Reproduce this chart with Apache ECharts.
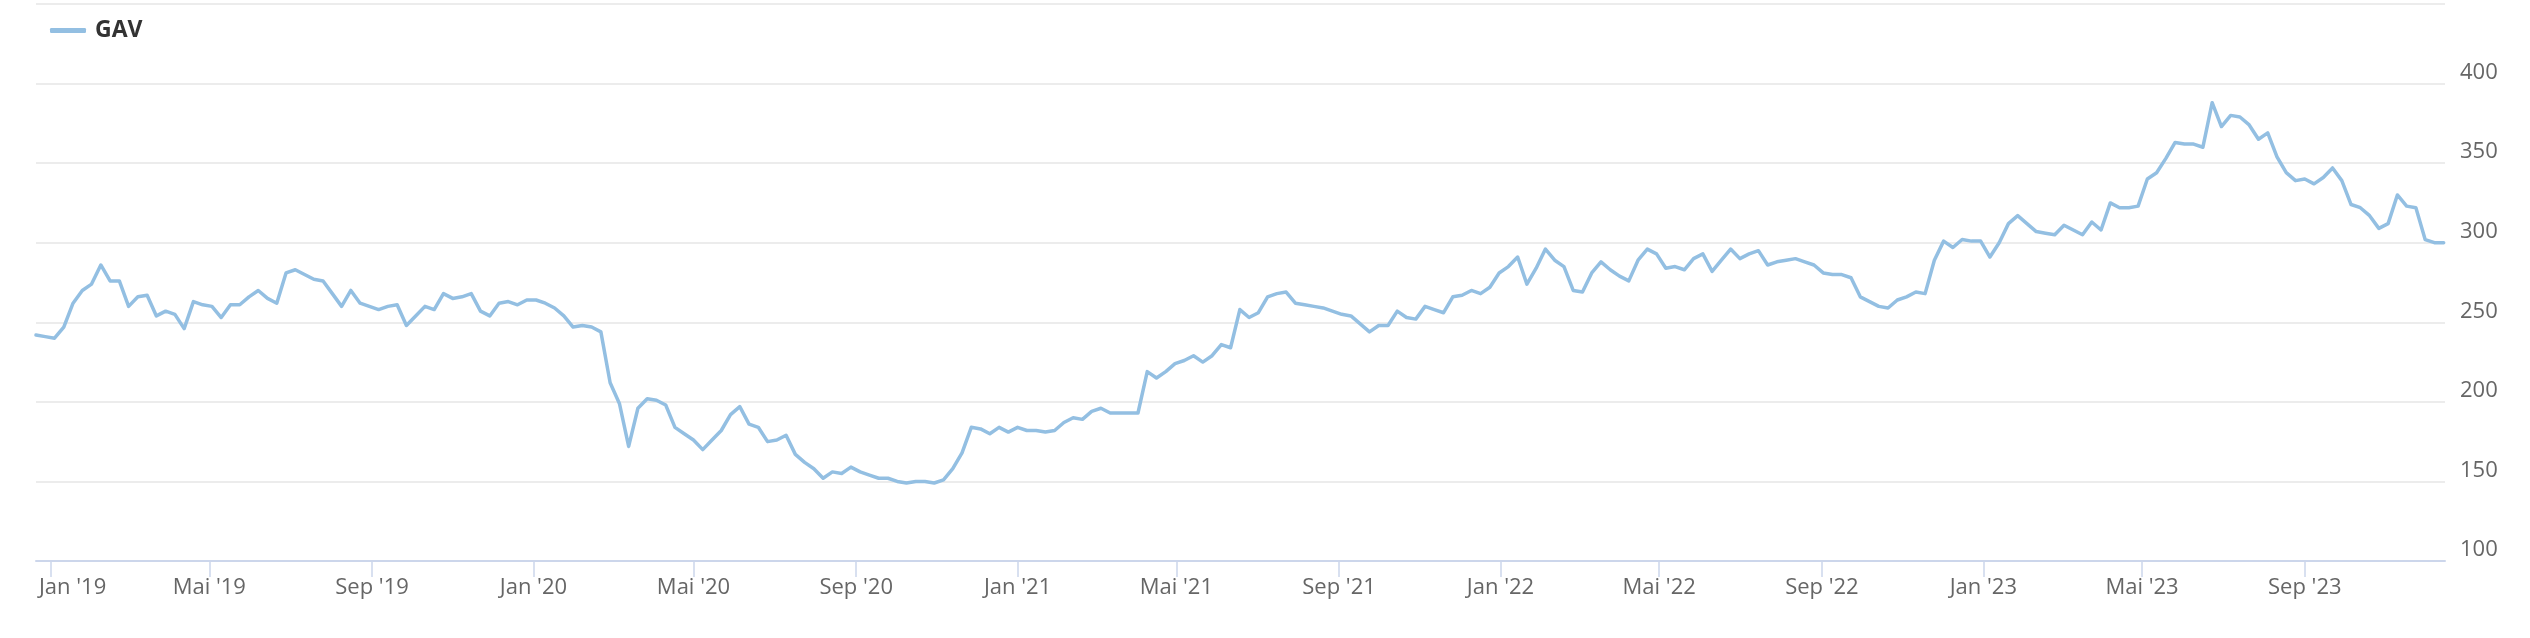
<!DOCTYPE html>
<html>
<head>
<meta charset="utf-8">
<script src="https://cdn.jsdelivr.net/npm/echarts@6/dist/echarts.min.js"></script>
<style>
html,body{margin:0;padding:0;background:#fff;}
#chart{width:2530px;height:638px;}
</style>
</head>
<body>
<div id="chart"></div>
<script>
const seriesName = 'GAV';
const dates = [
'2018-12-21','2018-12-28',
'2019-01-04','2019-01-11','2019-01-18','2019-01-25','2019-02-01','2019-02-08','2019-02-15','2019-02-22','2019-03-01','2019-03-08','2019-03-15','2019-03-22','2019-03-29','2019-04-05','2019-04-12','2019-04-19','2019-04-26','2019-05-03','2019-05-10','2019-05-17','2019-05-24','2019-05-31','2019-06-07','2019-06-14','2019-06-21','2019-06-28','2019-07-05','2019-07-12','2019-07-19','2019-07-26','2019-08-02','2019-08-09','2019-08-16','2019-08-23','2019-08-30','2019-09-06','2019-09-13','2019-09-20','2019-09-27','2019-10-04','2019-10-11','2019-10-18','2019-10-25','2019-11-01','2019-11-08','2019-11-15','2019-11-22','2019-11-29','2019-12-06','2019-12-13','2019-12-20','2019-12-27',
'2020-01-03','2020-01-10','2020-01-17','2020-01-24','2020-01-31','2020-02-07','2020-02-14','2020-02-21','2020-02-28','2020-03-06','2020-03-13','2020-03-20','2020-03-27','2020-04-03','2020-04-10','2020-04-17','2020-04-24','2020-05-01','2020-05-08','2020-05-15','2020-05-22','2020-05-29','2020-06-05','2020-06-12','2020-06-19','2020-06-26','2020-07-03','2020-07-10','2020-07-17','2020-07-24','2020-07-31','2020-08-07','2020-08-14','2020-08-21','2020-08-28','2020-09-04','2020-09-11','2020-09-18','2020-09-25','2020-10-02','2020-10-09','2020-10-16','2020-10-23','2020-10-30','2020-11-06','2020-11-13','2020-11-20','2020-11-27','2020-12-04','2020-12-11','2020-12-18','2020-12-25',
'2021-01-01','2021-01-08','2021-01-15','2021-01-22','2021-01-29','2021-02-05','2021-02-12','2021-02-19','2021-02-26','2021-03-05','2021-03-12','2021-03-19','2021-03-26','2021-04-02','2021-04-09','2021-04-16','2021-04-23','2021-04-30','2021-05-07','2021-05-14','2021-05-21','2021-05-28','2021-06-04','2021-06-11','2021-06-18','2021-06-25','2021-07-02','2021-07-09','2021-07-16','2021-07-23','2021-07-30','2021-08-06','2021-08-13','2021-08-20','2021-08-27','2021-09-03','2021-09-10','2021-09-17','2021-09-24','2021-10-01','2021-10-08','2021-10-15','2021-10-22','2021-10-29','2021-11-05','2021-11-12','2021-11-19','2021-11-26','2021-12-03','2021-12-10','2021-12-17','2021-12-24','2021-12-31',
'2022-01-07','2022-01-14','2022-01-21','2022-01-28','2022-02-04','2022-02-11','2022-02-18','2022-02-25','2022-03-04','2022-03-11','2022-03-18','2022-03-25','2022-04-01','2022-04-08','2022-04-15','2022-04-22','2022-04-29','2022-05-06','2022-05-13','2022-05-20','2022-05-27','2022-06-03','2022-06-10','2022-06-17','2022-06-24','2022-07-01','2022-07-08','2022-07-15','2022-07-22','2022-07-29','2022-08-05','2022-08-12','2022-08-19','2022-08-26','2022-09-02','2022-09-09','2022-09-16','2022-09-23','2022-09-30','2022-10-07','2022-10-14','2022-10-21','2022-10-28','2022-11-04','2022-11-11','2022-11-18','2022-11-25','2022-12-02','2022-12-09','2022-12-16','2022-12-23','2022-12-30',
'2023-01-06','2023-01-13','2023-01-20','2023-01-27','2023-02-03','2023-02-10','2023-02-17','2023-02-24','2023-03-03','2023-03-10','2023-03-17','2023-03-24','2023-03-31','2023-04-07','2023-04-14','2023-04-21','2023-04-28','2023-05-05','2023-05-12','2023-05-19','2023-05-26','2023-06-02','2023-06-09','2023-06-16','2023-06-23','2023-06-30','2023-07-07','2023-07-14','2023-07-21','2023-07-28','2023-08-04','2023-08-11','2023-08-18','2023-08-25','2023-09-01','2023-09-08','2023-09-15','2023-09-22','2023-09-29','2023-10-06','2023-10-13','2023-10-20','2023-10-27','2023-11-03','2023-11-10','2023-11-17','2023-11-24','2023-12-01','2023-12-08','2023-12-15'
];
const gavValues = [
242,241,
240,247,262,270,274,286,276,276,260,266,267,254,257,255,246,263,261,260,253,261,261,266,270,265,262,281,283,280,277,276,268,260,270,262,260,258,260,261,248,254,260,258,268,265,266,268,257,254,262,263,261,264,
264,262,259,254,247,248,247,244,212,199,172,196,202,201,198,184,180,176,170,176,182,192,197,186,184,175,176,179,167,162,158,152,156,155,159,156,154,152,152,150,149,150,150,149,151,158,168,184,183,180,184,181,
184,182,182,181,182,187,190,189,194,196,193,193,193,193,219,215,219,224,226,229,225,229,236,234,258,253,256,266,268,269,262,261,260,259,257,255,254,249,244,248,248,257,253,252,260,258,256,266,267,270,268,272,281,
285,291,274,284,296,289,285,270,269,281,288,283,279,276,289,296,293,284,285,283,290,293,282,289,296,290,293,295,286,288,289,290,288,286,281,280,280,278,266,263,260,259,264,266,269,268,289,301,297,302,301,301,
291,300,312,317,312,307,306,305,311,308,305,313,308,325,322,322,323,340,344,353,363,362,362,360,388,373,380,379,374,365,369,354,344,339,340,337,341,347,339,324,322,317,309,312,330,323,322,302,300,300
];
const xTickDates = ['2019-01-01','2019-05-01','2019-09-01','2020-01-01','2020-05-01','2020-09-01','2021-01-01','2021-05-01','2021-09-01','2022-01-01','2022-05-01','2022-09-01','2023-01-01','2023-05-01','2023-09-01'];
const monthNames = ['Jan','Feb','Mär','Apr','Mai','Jun','Jul','Aug','Sep','Okt','Nov','Dez'];
const yMin = 100, yMax = 450, yStep = 50;
const xMin = '2018-12-21', xMax = '2023-12-16';

const parse = s => echarts.number.parseDate(s).getTime();
const tickTs = xTickDates.map(parse);
const firstTick = tickTs[0];

const chart = echarts.init(document.getElementById('chart'), null, {renderer: 'canvas'});
const FONT = '"Open Sans", "Noto Sans", sans-serif';
chart.setOption({
  animation: false,
  backgroundColor: '#ffffff',
  textStyle: {fontFamily: FONT},
  grid: {left: 36, right: 85, top: 4, bottom: 77, containLabel: false},
  legend: {
    left: 50, top: 19, padding: 0,
    icon: 'roundRect', itemWidth: 36, itemHeight: 5,
    data: [{name: seriesName, itemStyle: {color: '#93bfe2'}}],
    textStyle: {fontFamily: FONT, fontSize: 23, fontWeight: 'bold', color: '#333333', padding: [0, 0, 0, 4]}
  },
  xAxis: {
    type: 'value',
    min: parse(xMin), max: parse(xMax),
    axisLine: {show: true, lineStyle: {color: '#ccd6eb', width: 2}},
    axisTick: {show: true, length: 16, customValues: tickTs, lineStyle: {color: '#ccd6eb', width: 1.5}},
    splitLine: {show: false},
    axisLabel: {
      customValues: tickTs,
      margin: 16,
      color: '#666666', fontSize: 22, fontFamily: FONT,
      formatter: function (val) {
        const d = new Date(val);
        const txt = monthNames[d.getMonth()] + " '" + String(d.getFullYear()).slice(2);
        return val === firstTick ? '{first|' + txt + '}' : txt;
      },
      rich: {first: {padding: [0, 0, 0, 44], color: '#666666', fontSize: 22, fontFamily: FONT}}
    }
  },
  yAxis: {
    type: 'value', position: 'right',
    min: yMin, max: yMax, interval: yStep,
    axisLine: {show: false}, axisTick: {show: false},
    splitLine: {show: true, lineStyle: {color: '#e6e6e6', width: 1.5}},
    axisLabel: {
      showMaxLabel: false,
      margin: 15, align: 'left', verticalAlign: 'bottom',
      color: '#666666', fontSize: 22, fontFamily: FONT
    }
  },
  series: [{
    name: seriesName,
    type: 'line',
    data: dates.map((d, i) => [parse(d), gavValues[i]]),
    showSymbol: false, symbol: 'none',
    lineStyle: {color: '#93bfe2', width: 3.5, cap: 'round', join: 'round'},
    itemStyle: {color: '#93bfe2'},
    emphasis: {disabled: true}
  }]
});
</script>
</body>
</html>
